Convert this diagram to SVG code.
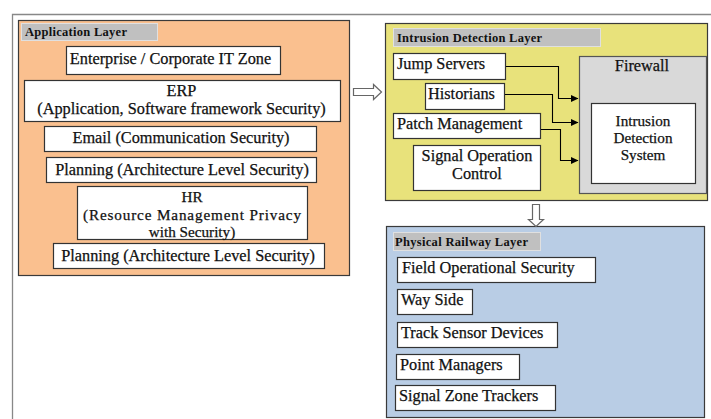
<svg xmlns="http://www.w3.org/2000/svg" width="711" height="419" viewBox="0 0 711 419">
<style>
.layer{stroke:#3a3a3a;stroke-width:1.2}
.ttl{fill:#c0c0c0;stroke:#e0e0e0;stroke-width:1}
.box{fill:#fff;stroke:#333;stroke-width:1.2}
.t{font-family:"Liberation Serif","Times New Roman",serif;font-size:16.3px;fill:#111;stroke:#111;stroke-width:0.25}
.m{font-size:15.2px}
.b{font-family:"Liberation Serif","Times New Roman",serif;font-size:12.5px;font-weight:bold;fill:#111}
.c{text-anchor:middle}
.con{fill:none;stroke:#000;stroke-width:1.1}
.blk{fill:#fff;stroke:#666;stroke-width:1.2}
</style>
<defs>
<marker id="ah" markerWidth="8" markerHeight="8" refX="7" refY="4" orient="auto" markerUnits="userSpaceOnUse">
<path d="M0,0.5 L7.5,4 L0,7.5 z" fill="#000"/>
</marker>
</defs>
<rect width="711" height="419" fill="#fff"/>
<path d="M12.5,419 V14.5 H711" fill="none" stroke="#888" stroke-width="1.3"/>

<g id="application-layer">
<rect class="layer" x="18.5" y="20.5" width="331" height="255" fill="#fac08f"/>
<rect class="ttl" x="21.5" y="23.5" width="136" height="17"/>
<text class="b" x="25" y="36" textLength="102">Application Layer</text>
</g>
<g id="enterprise">
<rect class="box" x="66.5" y="46.5" width="214" height="28"/>
<text class="t c" x="170.5" y="64">Enterprise / Corporate IT Zone</text>
</g>
<g id="erp">
<rect class="box" x="24.5" y="80.5" width="316" height="41"/>
<text class="t c" x="181.5" y="96">ERP</text>
<text class="t c" x="181.5" y="114">(Application, Software framework Security)</text>
</g>
<g id="email">
<rect class="box" x="44.5" y="126.5" width="272" height="25"/>
<text class="t c" x="181" y="143">Email (Communication Security)</text>
</g>
<g id="planning-1">
<rect class="box" x="46.5" y="157.5" width="270" height="25"/>
<text class="t c" x="182" y="175">Planning (Architecture Level Security)</text>
</g>
<g id="hr">
<rect class="box" x="77.5" y="186.5" width="230" height="53"/>
<text class="t m c" x="192" y="202">HR</text>
<text class="t m c" x="192" y="219.5" textLength="218">(Resource Management Privacy</text>
<text class="t m c" x="192" y="237">with Security)</text>
</g>
<g id="planning-2">
<rect class="box" x="53.5" y="243.5" width="271" height="25"/>
<text class="t c" x="188" y="261">Planning (Architecture Level Security)</text>
</g>

<g id="intrusion-layer">
<rect class="layer" x="385.5" y="23.5" width="322" height="177" fill="#e8e27b"/>
<rect class="ttl" x="393.5" y="28.5" width="207" height="18"/>
<text class="b" x="397" y="41.5" textLength="145">Intrusion Detection Layer</text>
</g>
<g id="jump-servers">
<rect class="box" x="393.5" y="53.5" width="112" height="26"/>
<text class="t" x="397" y="69">Jump Servers</text>
</g>
<g id="historians">
<rect class="box" x="425.5" y="83.5" width="79" height="26"/>
<text class="t" x="428" y="99">Historians</text>
</g>
<g id="patch-management">
<rect class="box" x="393.5" y="113.5" width="147" height="25"/>
<text class="t" x="397" y="129">Patch Management</text>
</g>
<g id="signal-operation-control">
<rect class="box" x="413.5" y="145.5" width="127" height="45"/>
<text class="t c" x="477" y="161">Signal Operation</text>
<text class="t c" x="477" y="179">Control</text>
</g>
<g id="firewall">
<rect x="579.5" y="56.5" width="127" height="137" fill="#d9d9d9" stroke="#555" stroke-width="1.2"/>
<text class="t c" x="642" y="71">Firewall</text>
</g>
<g id="ids">
<rect class="box" x="591.5" y="103.5" width="104" height="80"/>
<text class="t m c" x="643" y="126">Intrusion</text>
<text class="t m c" x="643" y="143">Detection</text>
<text class="t m c" x="643" y="160">System</text>
</g>

<g id="physical-layer">
<rect class="layer" x="386.5" y="226.5" width="318" height="191" fill="#b9cde5"/>
<rect class="ttl" x="393.5" y="232.5" width="147" height="18"/>
<text class="b" x="395" y="246" textLength="133">Physical Railway Layer</text>
</g>
<g id="field-operational-security">
<rect class="box" x="397.5" y="257.5" width="198" height="25"/>
<text class="t" x="402" y="273">Field Operational Security</text>
</g>
<g id="way-side">
<rect class="box" x="397.5" y="289.5" width="75" height="25"/>
<text class="t" x="401" y="305">Way Side</text>
</g>
<g id="track-sensor-devices">
<rect class="box" x="397.5" y="322.5" width="160" height="25"/>
<text class="t" x="401" y="338">Track Sensor Devices</text>
</g>
<g id="point-managers">
<rect class="box" x="396.5" y="354.5" width="123" height="25"/>
<text class="t" x="400" y="370">Point Managers</text>
</g>
<g id="signal-zone-trackers">
<rect class="box" x="395.5" y="385.5" width="160" height="25"/>
<text class="t" x="399" y="401">Signal Zone Trackers</text>
</g>

<g id="connectors">
<path class="con" d="M506,66.5 H558.5 V98.5 H578" marker-end="url(#ah)"/>
<path class="con" d="M505,94.5 H552.5 V122.5 H578" marker-end="url(#ah)"/>
<path class="con" d="M541,129.5 H560.5 V160.5 H578" marker-end="url(#ah)"/>
<path class="blk" d="M353.5,88.5 H373.5 V84.5 L381.5,92 L373.5,99.5 V95.5 H353.5 Z"/>
<path class="blk" d="M532.5,204.5 H539.5 V219.5 H543.5 L536,226.5 L528.5,219.5 H532.5 Z"/>
</g>
</svg>
